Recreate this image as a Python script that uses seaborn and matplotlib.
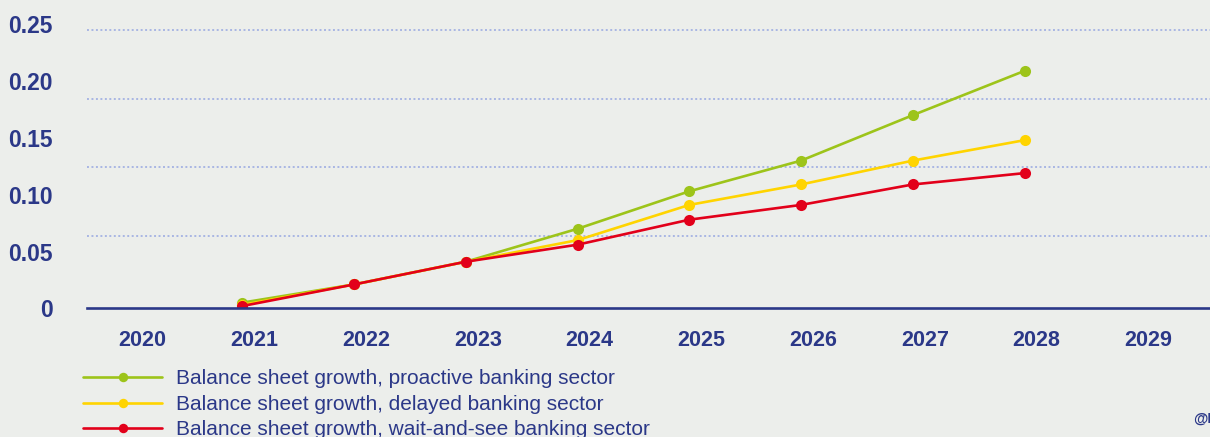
import numpy as np
import pandas as pd
import matplotlib
matplotlib.use("Agg")
import matplotlib.pyplot as plt
from matplotlib.transforms import ScaledTranslation
from matplotlib.lines import Line2D
import seaborn as sns

# Data
years = [2021, 2022, 2023, 2024, 2025, 2026, 2027, 2028]
proactive = [0.005, 0.021, 0.041, 0.070, 0.103, 0.130, 0.170, 0.209]
delayed = [0.003, 0.021, 0.041, 0.060, 0.091, 0.109, 0.130, 0.148]
wait_and_see = [0.002, 0.021, 0.041, 0.056, 0.078, 0.091, 0.109, 0.119]

series_names = [
    "Balance sheet growth, proactive banking sector",
    "Balance sheet growth, delayed banking sector",
    "Balance sheet growth, wait-and-see banking sector",
]
x_ticks = list(range(2020, 2030))
y_ticks = [0, 0.05, 0.10, 0.15, 0.20, 0.25]
y_tick_labels = ["0", "0.05", "0.10", "0.15", "0.20", "0.25"]
grid_levels = [0.0636, 0.1241, 0.1846, 0.2452]

df = pd.DataFrame({
    "year": years * 3,
    "value": proactive + delayed + wait_and_see,
    "series": [series_names[0]] * len(years)
    + [series_names[1]] * len(years)
    + [series_names[2]] * len(years),
})

BG = "#eceeeb"
NAVY = "#2b3888"
GRID = "#a9b6e3"
palette = {
    series_names[0]: "#9dc41a",
    series_names[1]: "#ffd400",
    series_names[2]: "#e2001a",
}

sns.set_theme(style="white")
plt.rcParams["font.family"] = ["Liberation Sans", "DejaVu Sans"]

fig = plt.figure(figsize=(12.10, 4.37), dpi=100, facecolor=BG)
ax = fig.add_axes([87 / 1210, (437 - 308.3) / 437, 1 - 87 / 1210, 308.3 / 437])
ax.set_facecolor(BG)

sns.lineplot(
    data=df, x="year", y="value", hue="series", hue_order=series_names,
    palette=palette, marker="o", markersize=8, markeredgewidth=0,
    linewidth=1.9, ax=ax, legend=False,
)

ax.set_xlim(2019.61, 2029.66)
ax.set_ylim(0, 0.2714)

# Labelled ticks without grid, dotted guides on minor ticks
ax.set_yticks(y_ticks)
ax.set_yticklabels(y_tick_labels)
ax.set_yticks(grid_levels, minor=True)
ax.set_xticks(x_ticks)
ax.set_xticklabels([str(y) for y in x_ticks])
ax.grid(False)
ax.grid(True, which="minor", axis="y", color=GRID, linestyle=(0, (1, 1.3)), linewidth=1.4)
ax.tick_params(axis="both", which="both", length=0)
ax.tick_params(axis="y", pad=24.5, labelsize=16.5, labelcolor=NAVY)
ax.tick_params(axis="x", pad=15.5, labelsize=15.5, labelcolor=NAVY)
for lbl in ax.get_yticklabels() + ax.get_xticklabels():
    lbl.set_fontweight("bold")
shift = ScaledTranslation(12 / 100, 0, fig.dpi_scale_trans)
for lbl in ax.get_xticklabels():
    lbl.set_transform(lbl.get_transform() + shift)

ax.set_xlabel("")
ax.set_ylabel("")
for side in ["top", "right", "left"]:
    ax.spines[side].set_visible(False)
ax.spines["bottom"].set_color(NAVY)
ax.spines["bottom"].set_linewidth(1.9)

handles = [
    Line2D([], [], color=palette[n], marker="o", markersize=6.8,
           markeredgewidth=0, linewidth=1.9)
    for n in series_names
]
leg = fig.legend(
    handles, series_names, loc="upper left",
    bbox_to_anchor=(83.3 / 1210, 1 - 369.5 / 437), frameon=False,
    fontsize=15.0, handlelength=3.8, handletextpad=0.64,
    labelspacing=0.31, borderpad=0, borderaxespad=0,
)
for t in leg.get_texts():
    t.set_color(NAVY)

fig.text(1192.7 / 1210, 1 - 419 / 437, "@I", fontsize=10.5, color=NAVY,
         fontweight="bold", va="center", ha="left")

fig.savefig("out.png", dpi=100, facecolor=BG)
